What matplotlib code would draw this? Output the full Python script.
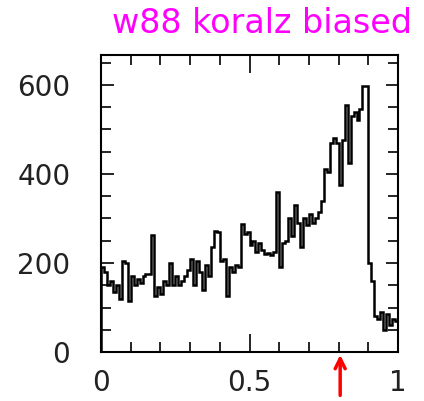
import numpy as np
import matplotlib
matplotlib.use('Agg')
import matplotlib.pyplot as plt
from matplotlib.ticker import MultipleLocator

# bin edges 0..1 in steps of 0.01, counts
edges = np.linspace(0, 1, 101)
counts = [190, 180, 150, 160, 135, 150, 120, 205, 200, 115,
          170, 150, 165, 155, 170, 175, 175, 262, 125, 145,
          130, 160, 150, 200, 150, 170, 150, 160, 170, 185,
          210, 150, 205, 180, 140, 195, 170, 235, 272, 270,
          205, 210, 125, 190, 180, 195, 190, 288, 265, 270,
          240, 250, 225, 245, 230, 220, 222, 218, 225, 360,
          190, 245, 250, 300, 260, 330, 290, 235, 300, 285,
          310, 290, 300, 315, 340, 410, 405, 470, 480, 470,
          375, 475, 555, 425, 530, 540, 520, 545, 597, 597,
          200, 160, 80, 75, 90, 50, 85, 60, 75, 70]
xticks = [0, 0.5, 1]
xticklabels = ['0', '0.5', '1']
yticks = [0, 200, 400, 600]
title = 'w88 koralz biased'

fig = plt.figure(figsize=(4.24, 4.01), dpi=100)
ax = fig.add_axes([0.238, 0.122, 0.701, 0.741])

ax.stairs(counts, edges, color='black', linewidth=1.8)

ax.set_xlim(0, 1)
ax.set_ylim(0, 667)
ax.set_xticks(xticks)
ax.set_xticklabels(xticklabels)
ax.set_yticks(yticks)
ax.xaxis.set_minor_locator(MultipleLocator(0.1))
ax.yaxis.set_minor_locator(MultipleLocator(50))
ax.tick_params(which='both', direction='in', top=True, right=True,
               labelsize=20, width=1.2, labelcolor='#222222')
ax.tick_params(axis='x', which='major', length=13, pad=12)
ax.tick_params(axis='x', which='minor', length=7)
ax.tick_params(axis='y', which='major', length=9, pad=22)
ax.tick_params(axis='y', which='minor', length=7)
for s in ax.spines.values():
    s.set_linewidth(1.5)

# handwritten title in magenta
fig.text(0.618, 0.942, title, color='#ff00ff', fontsize=24,
         ha='center', va='center')

# red arrow below the axis
ax.annotate('', xy=(0.805, 0.0), xytext=(0.805, -0.155),
            xycoords='axes fraction', textcoords='axes fraction',
            arrowprops=dict(arrowstyle='->', color='red', lw=2.5,
                            mutation_scale=18),
            annotation_clip=False)

fig.savefig('out.png', dpi=100)
